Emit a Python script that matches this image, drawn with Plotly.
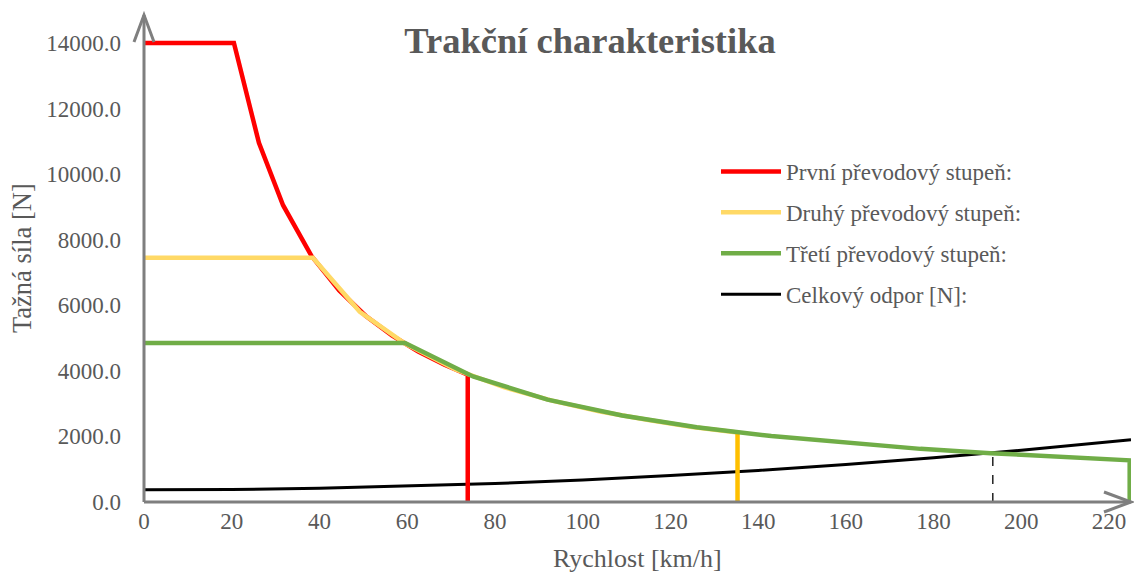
import plotly.graph_objects as go

# ---- data ----
speed_1 = [0, 20.5, 26.2, 31.7, 38.2, 44.5, 50.5, 56.5, 62.5, 68.5, 73.8, 73.8]
force_1 = [14000, 14000, 10950, 9050, 7500, 6450, 5680, 5080, 4590, 4190, 3880, 0]

speed_2 = [0, 38.5, 49.2, 59.5, 71, 82, 93, 104, 115, 125, 135.3]
force_2 = [7450, 7450, 5800, 4830, 4040, 3500, 3090, 2760, 2500, 2290, 2120]
speed_2_end = [135.3, 135.3]
force_2_end = [2120, 0]

speed_3 = [0, 59.5, 75, 92, 109, 126, 143, 160, 177, 193, 209, 224.7, 224.7]
force_3 = [4850, 4850, 3830, 3120, 2640, 2280, 2010, 1800, 1620, 1490, 1375, 1270, 0]

speed_r = [0, 20, 40, 60, 80, 100, 120, 140, 160, 180, 200, 225]
resist = [370, 382, 418, 479, 563, 672, 805, 962, 1143, 1348, 1578, 1900]

speed_eq = [193.5, 193.5]
force_eq = [0, 1495]

x_ticks = [0, 20, 40, 60, 80, 100, 120, 140, 160, 180, 200, 220]
y_ticks = [0, 2000, 4000, 6000, 8000, 10000, 12000, 14000]

names = ["První převodový stupeň:", "Druhý převodový stupeň:",
         "Třetí převodový stupeň:", "Celkový odpor [N]:"]

X_MAX = 225
Y_MAX = 14850

GRAY = "#7f7f7f"
TXT = "#595959"
FONT = "Liberation Serif, Times New Roman, serif"

fig = go.Figure()

fig.add_trace(go.Scatter(x=speed_r, y=resist, mode="lines", name=names[3],
                         line=dict(color="#000000", width=3),
                         legendrank=4, legendgroup="d"))
fig.add_trace(go.Scatter(x=speed_eq, y=force_eq, mode="lines", showlegend=False,
                         line=dict(color="#000000", width=1.3, dash="dash")))
fig.add_trace(go.Scatter(x=speed_1, y=force_1, mode="lines", name=names[0],
                         line=dict(color="#FF0000", width=4.5),
                         legendrank=1, legendgroup="a"))
fig.add_trace(go.Scatter(x=speed_2, y=force_2, mode="lines", name=names[1],
                         line=dict(color="#FFD966", width=4.5),
                         legendrank=2, legendgroup="b"))
fig.add_trace(go.Scatter(x=speed_2_end, y=force_2_end, mode="lines", showlegend=False,
                         line=dict(color="#FFC000", width=4.5)))
fig.add_trace(go.Scatter(x=speed_3, y=force_3, mode="lines", name=names[2],
                         line=dict(color="#70AD47", width=4.5),
                         legendrank=3, legendgroup="c"))

shapes = [
    dict(type="line", xref="paper", yref="paper", x0=0, y0=0, x1=0, y1=1,
         line=dict(color=GRAY, width=3), layer="above"),
    dict(type="line", xref="paper", yref="paper", x0=0, y0=0, x1=1, y1=0,
         line=dict(color=GRAY, width=3), layer="above"),
    dict(type="path", xref="paper", yref="paper", xsizemode="pixel", ysizemode="pixel",
         xanchor=0, yanchor=1, path="M-10,-27 L0,0 L10,-27",
         line=dict(color=GRAY, width=3), layer="above"),
    dict(type="path", xref="paper", yref="paper", xsizemode="pixel", ysizemode="pixel",
         xanchor=1, yanchor=0, path="M-27,10 L0,0 L-27,-10",
         line=dict(color=GRAY, width=3), layer="above"),
]

fig.update_layout(
    width=1134, height=574,
    margin=dict(l=144, r=3, t=15, b=72),
    paper_bgcolor="white", plot_bgcolor="white",
    font=dict(family=FONT, color=TXT, size=23),
    title=dict(text="<b>Trakční charakteristika</b>", xref="container", yref="container",
               x=590 / 1134, y=1 - 40 / 574, xanchor="center", yanchor="middle",
               font=dict(family=FONT, size=36.5, color=TXT)),
    xaxis=dict(range=[0, X_MAX], tickvals=x_ticks, showgrid=False, zeroline=False,
               showline=False, ticks="", ticklabelstandoff=3,
               tickfont=dict(family=FONT, size=23, color=TXT)),
    yaxis=dict(range=[0, Y_MAX], tickvals=y_ticks, tickformat=".1f", showgrid=False,
               zeroline=False, showline=False, ticks="", ticklabelstandoff=22,
               tickfont=dict(family=FONT, size=23, color=TXT)),
    showlegend=True,
    legend=dict(x=(716 - 144) / 987, y=(502 - 150) / 487, xanchor="left", yanchor="top",
                bgcolor="rgba(0,0,0,0)", font=dict(family=FONT, size=23, color=TXT),
                tracegroupgap=8, itemwidth=60),
    shapes=shapes,
    annotations=[
        dict(text="Rychlost [km/h]", xref="paper", yref="paper", x=0.5,
             y=(502 - 558) / 487, xanchor="center", yanchor="middle", showarrow=False,
             font=dict(family=FONT, size=26, color=TXT)),
        dict(text="Tažná síla [N]", xref="paper", yref="paper", x=(22 - 144) / 987,
             y=(502 - 258) / 487, xanchor="center", yanchor="middle", showarrow=False,
             textangle=-90, font=dict(family=FONT, size=26.5, color=TXT)),
    ],
)

fig.write_html("out.html")
